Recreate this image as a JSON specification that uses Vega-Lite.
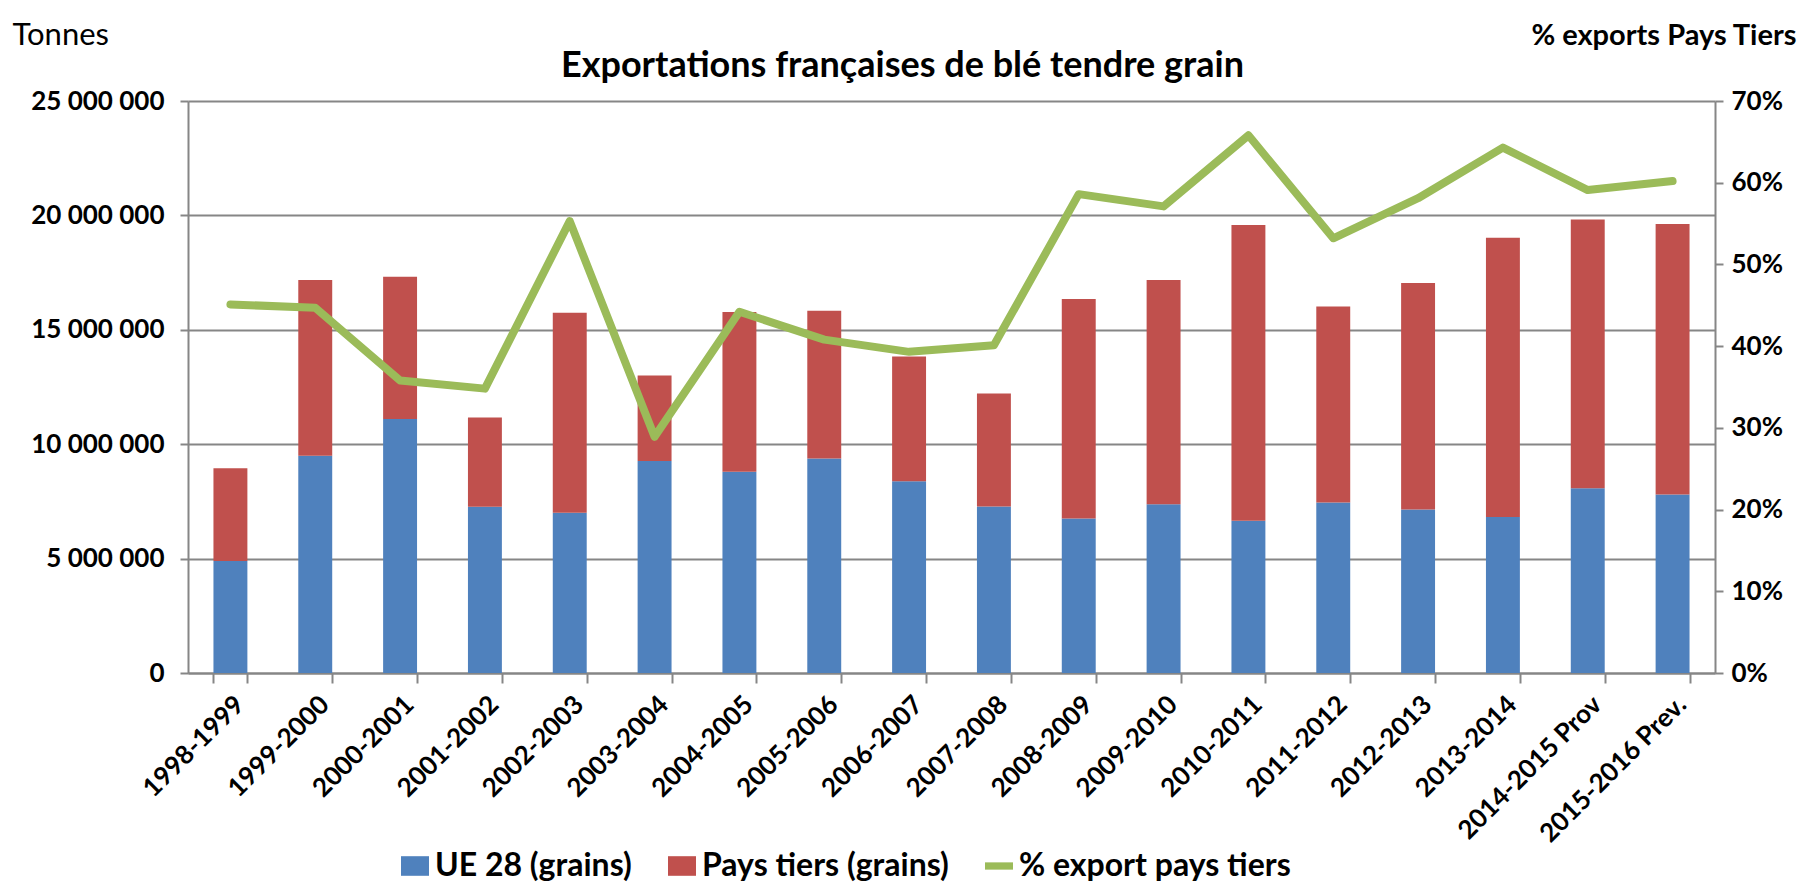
{
  "$schema": "https://vega.github.io/schema/vega-lite/v6.json",
  "autosize": {"type": "none"},
  "width": 1527,
  "height": 572,
  "padding": {"left": 188, "top": 101, "right": 90, "bottom": 215},
  "background": "white",
  "config": {
    "locale": {"number": {"decimal": ",", "thousands": " ", "grouping": [3], "currency": ["", " €"]}},
    "view": {"stroke": null},
    "font": "Lato"
  },
  "title": {
    "text": "Exportations françaises de blé tendre grain",
    "font": "Lato",
    "fontSize": 36,
    "fontWeight": "bold",
    "color": "black",
    "anchor": "middle",
    "frame": "group",
    "dx": -49,
    "dy": 70
  },
  "datasets": {
    "bars": [
      {"campagne": "1998-1999", "serie": "UE 28 (grains)", "tonnes": 4900000, "ord": 1},
      {"campagne": "1998-1999", "serie": "Pays tiers (grains)", "tonnes": 4050000, "ord": 2},
      {"campagne": "1999-2000", "serie": "UE 28 (grains)", "tonnes": 9500000, "ord": 1},
      {"campagne": "1999-2000", "serie": "Pays tiers (grains)", "tonnes": 7680000, "ord": 2},
      {"campagne": "2000-2001", "serie": "UE 28 (grains)", "tonnes": 11100000, "ord": 1},
      {"campagne": "2000-2001", "serie": "Pays tiers (grains)", "tonnes": 6220000, "ord": 2},
      {"campagne": "2001-2002", "serie": "UE 28 (grains)", "tonnes": 7270000, "ord": 1},
      {"campagne": "2001-2002", "serie": "Pays tiers (grains)", "tonnes": 3900000, "ord": 2},
      {"campagne": "2002-2003", "serie": "UE 28 (grains)", "tonnes": 7000000, "ord": 1},
      {"campagne": "2002-2003", "serie": "Pays tiers (grains)", "tonnes": 8750000, "ord": 2},
      {"campagne": "2003-2004", "serie": "UE 28 (grains)", "tonnes": 9270000, "ord": 1},
      {"campagne": "2003-2004", "serie": "Pays tiers (grains)", "tonnes": 3730000, "ord": 2},
      {"campagne": "2004-2005", "serie": "UE 28 (grains)", "tonnes": 8800000, "ord": 1},
      {"campagne": "2004-2005", "serie": "Pays tiers (grains)", "tonnes": 6980000, "ord": 2},
      {"campagne": "2005-2006", "serie": "UE 28 (grains)", "tonnes": 9380000, "ord": 1},
      {"campagne": "2005-2006", "serie": "Pays tiers (grains)", "tonnes": 6450000, "ord": 2},
      {"campagne": "2006-2007", "serie": "UE 28 (grains)", "tonnes": 8380000, "ord": 1},
      {"campagne": "2006-2007", "serie": "Pays tiers (grains)", "tonnes": 5450000, "ord": 2},
      {"campagne": "2007-2008", "serie": "UE 28 (grains)", "tonnes": 7280000, "ord": 1},
      {"campagne": "2007-2008", "serie": "Pays tiers (grains)", "tonnes": 4940000, "ord": 2},
      {"campagne": "2008-2009", "serie": "UE 28 (grains)", "tonnes": 6750000, "ord": 1},
      {"campagne": "2008-2009", "serie": "Pays tiers (grains)", "tonnes": 9600000, "ord": 2},
      {"campagne": "2009-2010", "serie": "UE 28 (grains)", "tonnes": 7380000, "ord": 1},
      {"campagne": "2009-2010", "serie": "Pays tiers (grains)", "tonnes": 9800000, "ord": 2},
      {"campagne": "2010-2011", "serie": "UE 28 (grains)", "tonnes": 6650000, "ord": 1},
      {"campagne": "2010-2011", "serie": "Pays tiers (grains)", "tonnes": 12930000, "ord": 2},
      {"campagne": "2011-2012", "serie": "UE 28 (grains)", "tonnes": 7450000, "ord": 1},
      {"campagne": "2011-2012", "serie": "Pays tiers (grains)", "tonnes": 8570000, "ord": 2},
      {"campagne": "2012-2013", "serie": "UE 28 (grains)", "tonnes": 7150000, "ord": 1},
      {"campagne": "2012-2013", "serie": "Pays tiers (grains)", "tonnes": 9900000, "ord": 2},
      {"campagne": "2013-2014", "serie": "UE 28 (grains)", "tonnes": 6820000, "ord": 1},
      {"campagne": "2013-2014", "serie": "Pays tiers (grains)", "tonnes": 12200000, "ord": 2},
      {"campagne": "2014-2015 Prov", "serie": "UE 28 (grains)", "tonnes": 8080000, "ord": 1},
      {"campagne": "2014-2015 Prov", "serie": "Pays tiers (grains)", "tonnes": 11740000, "ord": 2},
      {"campagne": "2015-2016 Prev.", "serie": "UE 28 (grains)", "tonnes": 7800000, "ord": 1},
      {"campagne": "2015-2016 Prev.", "serie": "Pays tiers (grains)", "tonnes": 11820000, "ord": 2}
    ],
    "pct": [
      {"campagne": "1998-1999", "serie": "% export pays tiers", "pct": 0.451},
      {"campagne": "1999-2000", "serie": "% export pays tiers", "pct": 0.447},
      {"campagne": "2000-2001", "serie": "% export pays tiers", "pct": 0.358},
      {"campagne": "2001-2002", "serie": "% export pays tiers", "pct": 0.348},
      {"campagne": "2002-2003", "serie": "% export pays tiers", "pct": 0.553},
      {"campagne": "2003-2004", "serie": "% export pays tiers", "pct": 0.289},
      {"campagne": "2004-2005", "serie": "% export pays tiers", "pct": 0.442},
      {"campagne": "2005-2006", "serie": "% export pays tiers", "pct": 0.408},
      {"campagne": "2006-2007", "serie": "% export pays tiers", "pct": 0.393},
      {"campagne": "2007-2008", "serie": "% export pays tiers", "pct": 0.401},
      {"campagne": "2008-2009", "serie": "% export pays tiers", "pct": 0.586},
      {"campagne": "2009-2010", "serie": "% export pays tiers", "pct": 0.571},
      {"campagne": "2010-2011", "serie": "% export pays tiers", "pct": 0.658},
      {"campagne": "2011-2012", "serie": "% export pays tiers", "pct": 0.532},
      {"campagne": "2012-2013", "serie": "% export pays tiers", "pct": 0.581},
      {"campagne": "2013-2014", "serie": "% export pays tiers", "pct": 0.643},
      {"campagne": "2014-2015 Prov", "serie": "% export pays tiers", "pct": 0.591},
      {"campagne": "2015-2016 Prev.", "serie": "% export pays tiers", "pct": 0.602}
    ]
  },
  "layer": [
    {
      "data": {"name": "bars"},
      "mark": {"type": "bar"},
      "encoding": {
        "x": {
          "field": "campagne", "type": "nominal", "sort": null,
          "scale": {"paddingInner": 0.6, "paddingOuter": 0.3},
          "axis": {
            "title": null, "labelAngle": -45, "labelFont": "Lato", "labelFontSize": 26, "labelFontWeight": "bold",
            "labelColor": "black", "labelPadding": 8, "labelDx": -5, "labelLimit": 400, "tickBand": "extent", "ticks": true, "tickSize": 10,
            "tickColor": "#868686", "tickWidth": 2, "domainColor": "#868686", "domainWidth": 2, "grid": false
          }
        },
        "y": {
          "field": "tonnes", "type": "quantitative", "stack": "zero",
          "scale": {"domain": [0, 25000000], "nice": false},
          "axis": {
            "values": [0, 5000000, 10000000, 15000000, 20000000, 25000000],
            "format": ",.0f", "labelFont": "Lato", "labelFontSize": 26, "labelFontWeight": "bold", "labelColor": "black",
            "labelPadding": 16, "tickSize": 8, "tickColor": "#868686", "tickWidth": 2,
            "domainColor": "#868686", "domainWidth": 2,
            "grid": true, "gridColor": "#868686", "gridWidth": 2,
            "title": "Tonnes", "titleAngle": 0, "titleAlign": "left", "titleBaseline": "middle",
            "titleX": -176, "titleY": -66, "titleFont": "Lato", "titleFontSize": 31, "titleFontWeight": "normal", "titleColor": "black"
          }
        },
        "color": {
          "field": "serie", "type": "nominal",
          "scale": {
            "domain": ["UE 28 (grains)", "Pays tiers (grains)", "% export pays tiers"],
            "range": ["#4F81BD", "#C0504D", "#9BBB59"]
          },
          "legend": {
            "title": null, "orient": "none", "direction": "horizontal", "legendX": 211, "legendY": 749,
            "labelFont": "Lato", "labelFontSize": 32, "labelFontWeight": "bold", "labelColor": "black", "labelLimit": 600,
            "labelExpr": "datum.label === 'Pays tiers (grains)' ? datum.label + '\u00a0\u00a0\u00a0\u00a0\u00a0\u00a0\u00a0' : datum.label",
            "symbolSize": 784, "labelOffset": 4, "columnPadding": 34,
            "encode": {
              "symbols": {
                "update": {
                  "shape": {"signal": "datum.value === '% export pays tiers' ? 'M-1,-0.26H1V0.26H-1Z' : 'M-1,-0.7H1V0.7H-1Z'"},
                  "fill": {"scale": "color", "field": "value"},
                  "stroke": {"value": "transparent"},
                  "strokeWidth": {"value": 0},
                  "opacity": {"value": 1}
                }
              }
            }
          }
        },
        "order": {"field": "ord", "type": "quantitative"}
      }
    },
    {
      "data": {"name": "pct"},
      "mark": {"type": "line", "strokeWidth": 8, "strokeCap": "round", "strokeJoin": "round"},
      "encoding": {
        "x": {"field": "campagne", "type": "nominal", "sort": null},
        "y": {
          "field": "pct", "type": "quantitative",
          "scale": {"domain": [0, 0.7], "nice": false},
          "axis": {
            "orient": "right",
            "values": [0, 0.1, 0.2, 0.3, 0.4, 0.5, 0.6, 0.7],
            "format": ".0%", "labelFont": "Lato", "labelFontSize": 26, "labelFontWeight": "bold", "labelColor": "black",
            "labelPadding": 8, "tickSize": 8, "tickColor": "#868686", "tickWidth": 2,
            "domainColor": "#868686", "domainWidth": 2, "grid": false,
            "title": "% exports Pays Tiers", "titleAngle": 0, "titleAlign": "right", "titleBaseline": "middle",
            "titleX": 81, "titleY": -66, "titleFont": "Lato", "titleFontSize": 29, "titleFontWeight": "bold", "titleColor": "black"
          }
        },
        "color": {"field": "serie", "type": "nominal"}
      }
    }
  ],
  "resolve": {"scale": {"y": "independent"}}
}
